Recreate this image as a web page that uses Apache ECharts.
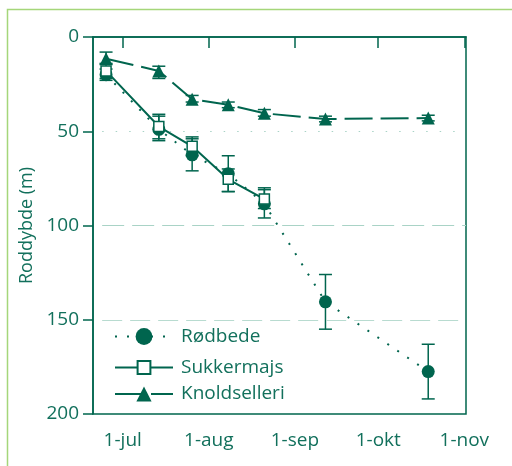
<!DOCTYPE html>
<html>
<head>
<meta charset="utf-8">
<script src="https://cdn.jsdelivr.net/npm/echarts@6/dist/echarts.min.js"></script>
<style>html,body{margin:0;padding:0;background:#fff;}#c{width:512px;height:466px;}</style>
</head>
<body>
<div id="c"></div>
<script>
// x values are day-of-year (non-leap year)
var tickDays = [182, 213, 244, 274, 305];
var tickLabels = ['1-jul', '1-aug', '1-sep', '1-okt', '1-nov'];
var yTicks = [0, 50, 100, 150, 200];

var rodbedeDays = [176, 195, 207, 220, 233, 255, 292];
var rodbede = [20, 49, 62.5, 72.5, 88.5, 140.5, 177.5];
var rodbedeLow = [17, 42, 54, 63, 81, 126, 163];
var rodbedeHigh = [23, 55, 71, 82, 96, 155, 192];

var sukkerDays = [176, 195, 207, 220, 233];
var sukker = [18, 47.5, 58, 75.5, 86];
var sukkerLow = [14, 41, 53, 70, 80];
var sukkerHigh = [22, 54, 63, 82, 91];

var knoldDays = [176, 195, 207, 220, 233, 255, 292];
var knold = [11.5, 18, 33, 36, 40.5, 43.5, 43];
var knoldLow = [8, 15.5, 31, 34.5, 38.5, 42, 41.5];
var knoldHigh = [14.5, 22, 34.5, 37.5, 42, 45, 44.5];

var dark = '#00654e';
var textCol = '#12705c';
var gridCol = '#a9d3c6';

function pairs(xs, ys) { return xs.map(function (x, i) { return [x, ys[i]]; }); }
function errData(xs, lo, hi) { return xs.map(function (x, i) { return [x, lo[i], hi[i]]; }); }

function errSeries(data, z) {
  return {
    type: 'custom',
    z: z,
    silent: true,
    renderItem: function (params, api) {
      var x = api.value(0);
      var p1 = api.coord([x, api.value(1)]);
      var p2 = api.coord([x, api.value(2)]);
      var w = 6.5;
      var st = { stroke: dark, lineWidth: 1.5 };
      return {
        type: 'group',
        children: [
          { type: 'line', shape: { x1: p1[0], y1: p1[1], x2: p2[0], y2: p2[1] }, style: st },
          { type: 'line', shape: { x1: p1[0] - w, y1: p1[1], x2: p1[0] + w, y2: p1[1] }, style: st },
          { type: 'line', shape: { x1: p2[0] - w, y1: p2[1], x2: p2[0] + w, y2: p2[1] }, style: st }
        ]
      };
    },
    encode: { x: 0, y: [1, 2] },
    data: data
  };
}

function legendFor(name, top, h) {
  return {
    orient: 'vertical',
    left: 114, top: top,
    itemWidth: 58, itemHeight: h,
    padding: 0,
    textStyle: { color: textCol, fontSize: 19, fontFamily: 'Open Sans', padding: [0, 0, 0, 3] },
    data: [name]
  };
}

var xMin = 171.3, xMax = 305.6, gridStart = 174.6;

var chart = echarts.init(document.getElementById('c'), null, { renderer: 'canvas' });
chart.setOption({
  animation: false,
  backgroundColor: '#fff',
  textStyle: { fontFamily: 'Open Sans' },
  graphic: [{
    type: 'polyline',
    shape: { points: [[7.5, 466], [7.5, 9.5], [512, 9.5]] },
    style: { stroke: '#a5d67a', lineWidth: 1.5, fill: null },
    silent: true
  }],
  grid: {
    left: 93, right: 46, top: 37, bottom: 52,
    show: true, borderColor: dark, borderWidth: 1.5, backgroundColor: 'transparent'
  },
  legend: [
    legendFor('Rødbede', 327, 21),
    legendFor('Sukkermajs', 358, 16),
    legendFor('Knoldselleri', 384.5, 19)
  ],
  xAxis: {
    type: 'value', min: xMin, max: xMax,
    splitLine: { show: false },
    axisLine: { lineStyle: { color: dark, width: 1.5 } },
    axisTick: { show: true, length: 11, lineStyle: { color: dark, width: 1.5 }, customValues: tickDays },
    axisLabel: {
      color: textCol, fontSize: 19, margin: 17, customValues: tickDays,
      formatter: function (v) { var i = tickDays.indexOf(Math.round(v)); return i >= 0 ? tickLabels[i] : ''; }
    }
  },
  yAxis: {
    type: 'value', inverse: true, min: 0, max: 200, interval: 50,
    name: 'Roddybde (m)', nameLocation: 'middle', nameRotate: 90, nameGap: 57,
    nameTextStyle: { color: textCol, fontSize: 18 },
    splitLine: { show: false },
    axisLine: { show: true, lineStyle: { color: dark, width: 1.5 } },
    axisTick: { show: true, length: 10, lineStyle: { color: dark, width: 1.5 }, customValues: yTicks },
    axisLabel: { color: textCol, fontSize: 19, margin: 14, customValues: yTicks }
  },
  series: [
    {
      type: 'line', name: 'grid', data: [], z: 1, silent: true,
      markLine: {
        silent: true, symbol: 'none', label: { show: false },
        data: [
          [{ coord: [gridStart, 50], lineStyle: { type: [1.5, 12], color: gridCol, width: 1.2 } }, { coord: [xMax, 50] }],
          [{ coord: [gridStart, 100], lineStyle: { type: [22, 8], color: gridCol, width: 1.2 } }, { coord: [xMax, 100] }],
          [{ coord: [gridStart, 150], lineStyle: { type: [20, 8], color: '#b8dbd0', width: 1.2 } }, { coord: [xMax, 150] }]
        ]
      }
    },
    errSeries(errData(knoldDays, knoldLow, knoldHigh), 2),
    errSeries(errData(rodbedeDays, rodbedeLow, rodbedeHigh), 2),
    errSeries(errData(sukkerDays, sukkerLow, sukkerHigh), 2),
    {
      type: 'line', name: 'Knoldselleri', z: 3,
      data: pairs(knoldDays, knold),
      symbol: 'triangle', symbolSize: 13,
      lineStyle: { color: dark, width: 2, type: [28, 8] },
      itemStyle: { color: dark, borderColor: dark, borderWidth: 0 }
    },
    {
      type: 'line', name: 'Rødbede', z: 4,
      data: pairs(rodbedeDays, rodbede),
      symbol: 'circle', symbolSize: 13,
      lineStyle: { color: dark, width: 2, type: [2, 10] },
      itemStyle: { color: dark, borderColor: dark, borderWidth: 0 }
    },
    {
      type: 'line', name: 'Sukkermajs', z: 5,
      data: pairs(sukkerDays, sukker),
      symbol: 'rect', symbolSize: 10,
      lineStyle: { color: dark, width: 2, type: 'solid' },
      itemStyle: { color: '#fff', borderColor: dark, borderWidth: 1.5 }
    }
  ]
});
</script>
</body>
</html>
